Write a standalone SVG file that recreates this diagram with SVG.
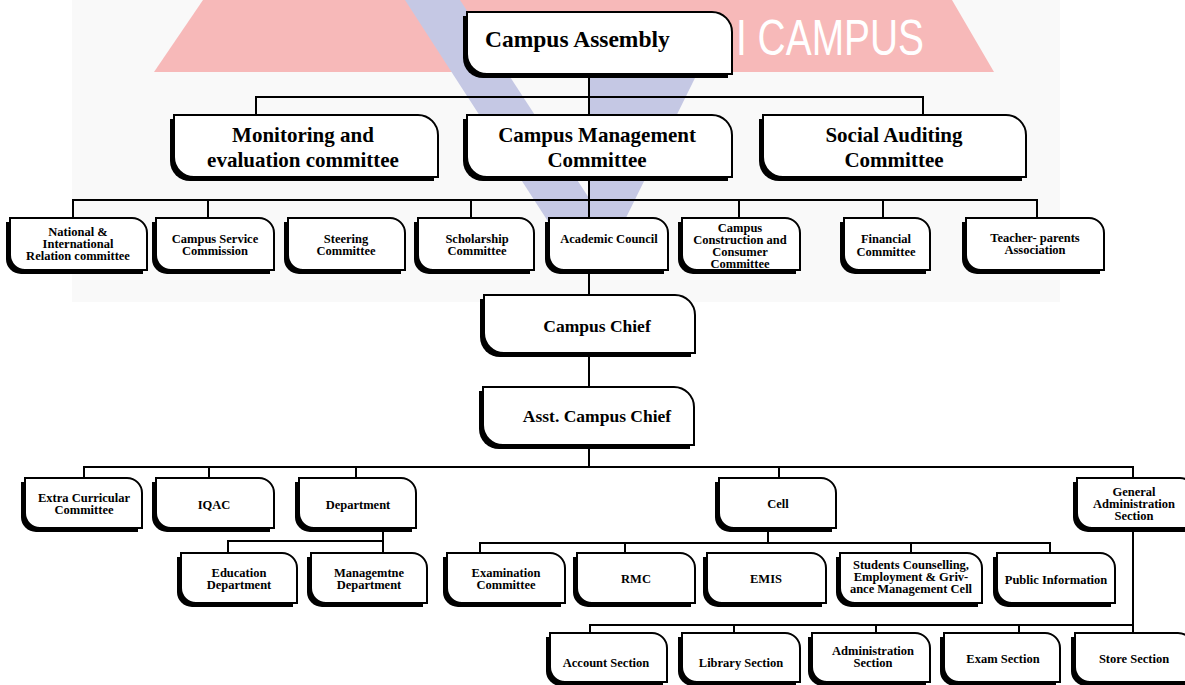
<svg xmlns="http://www.w3.org/2000/svg" width="1185" height="685" viewBox="0 0 1185 685" font-family="'Liberation Serif', 'Times New Roman', serif">
<style>
.bx{fill:#fff;stroke:#000;stroke-width:2}
.sh{fill:#000}
.ln{fill:none;stroke:#000;stroke-width:2}
text{font-family:"Liberation Serif","Times New Roman",serif;font-weight:bold;fill:#000;text-anchor:middle}
.big{font-size:21px}
.mid{font-size:17.5px}
.sm{font-size:12.5px}
</style>
<rect x="0" y="0" width="1185" height="685" fill="#fff"/>
<g id="watermark">
<rect x="72" y="0" width="988" height="302" fill="#f9f9f9"/>
<polygon points="154,72 203,0 952,0 994,72" fill="#f7b9b9"/>
<polygon points="405,0 460,0 600,215 600,250 560,240" fill="#c5c8e4"/>
<polygon points="590,78 695,78 615,240 590,248" fill="#c5c8e4"/>
<text x="736" y="55" style="font-family:'Liberation Sans',Arial,sans-serif;font-weight:normal;font-size:50px;fill:#fff;text-anchor:start" textLength="188" lengthAdjust="spacingAndGlyphs">I CAMPUS</text>
</g>
<g id="connectors" class="ln">
<path d="M589 74V115M256 115V97H923V115"/>
<path d="M589 177V218M73 218V200H1037V218M208 200V218M471 200V218M739 200V218M883 200V218"/>
<path d="M589 270V295M589 353V387M589 445V467"/>
<path d="M84 478V467H1133V478M209 467V478M356 467V478M779 467V478"/>
<path d="M383 528V541H228V553M383 541V553"/>
<path d="M768 528V543M480 553V543H1050V553M625 543V553M911 543V553"/>
<path d="M1133 528V633M590 633V625H1133M734 625V633M876 625V633M1019 625V633"/>
</g>
<g id="assembly"><path class="sh" transform="translate(-4,4)" d="M467 12H712A20 20 0 0 1 732 32V74H487A20 20 0 0 1 467 54Z"/><path class="bx" d="M467 12H712A20 20 0 0 1 732 32V74H487A20 20 0 0 1 467 54Z"/><text x="485" y="47" style="font-size:23.5px;text-anchor:start">Campus Assembly</text></g>
<g id="monitoring"><path class="sh" transform="translate(-4,4)" d="M174 115H418A20 20 0 0 1 438 135V177H194A20 20 0 0 1 174 157Z"/><path class="bx" d="M174 115H418A20 20 0 0 1 438 135V177H194A20 20 0 0 1 174 157Z"/><text class="big" x="303" y="142">Monitoring and</text><text class="big" x="303" y="167">evaluation committee</text></g>
<g id="cmc"><path class="sh" transform="translate(-4,4)" d="M467 115H712A20 20 0 0 1 732 135V177H487A20 20 0 0 1 467 157Z"/><path class="bx" d="M467 115H712A20 20 0 0 1 732 135V177H487A20 20 0 0 1 467 157Z"/><text class="big" x="597" y="142">Campus Management</text><text class="big" x="597" y="167">Committee</text></g>
<g id="social"><path class="sh" transform="translate(-4,4)" d="M763 115H1006A20 20 0 0 1 1026 135V177H783A20 20 0 0 1 763 157Z"/><path class="bx" d="M763 115H1006A20 20 0 0 1 1026 135V177H783A20 20 0 0 1 763 157Z"/><text class="big" x="894" y="142">Social Auditing</text><text class="big" x="894" y="167">Committee</text></g>
<g id="national"><path class="sh" transform="translate(-4,4)" d="M10 218H132A15 15 0 0 1 147 233V270H25A15 15 0 0 1 10 255Z"/><path class="bx" d="M10 218H132A15 15 0 0 1 147 233V270H25A15 15 0 0 1 10 255Z"/><text class="sm" x="78" y="236">National &amp;</text><text class="sm" x="78" y="248">International</text><text class="sm" x="78" y="260">Relation committee</text></g>
<g id="service"><path class="sh" transform="translate(-4,4)" d="M156 218H259A15 15 0 0 1 274 233V270H171A15 15 0 0 1 156 255Z"/><path class="bx" d="M156 218H259A15 15 0 0 1 274 233V270H171A15 15 0 0 1 156 255Z"/><text class="sm" x="215" y="243">Campus Service</text><text class="sm" x="215" y="255">Commission</text></g>
<g id="steering"><path class="sh" transform="translate(-4,4)" d="M288 218H390A15 15 0 0 1 405 233V270H303A15 15 0 0 1 288 255Z"/><path class="bx" d="M288 218H390A15 15 0 0 1 405 233V270H303A15 15 0 0 1 288 255Z"/><text class="sm" x="346" y="243">Steering</text><text class="sm" x="346" y="255">Committee</text></g>
<g id="scholarship"><path class="sh" transform="translate(-4,4)" d="M418 218H519A15 15 0 0 1 534 233V270H433A15 15 0 0 1 418 255Z"/><path class="bx" d="M418 218H519A15 15 0 0 1 534 233V270H433A15 15 0 0 1 418 255Z"/><text class="sm" x="477" y="243">Scholarship</text><text class="sm" x="477" y="255">Committee</text></g>
<g id="academic"><path class="sh" transform="translate(-4,4)" d="M549 218H653A15 15 0 0 1 668 233V270H564A15 15 0 0 1 549 255Z"/><path class="bx" d="M549 218H653A15 15 0 0 1 668 233V270H564A15 15 0 0 1 549 255Z"/><text class="sm" x="609" y="243">Academic Council</text></g>
<g id="construction"><path class="sh" transform="translate(-4,4)" d="M682 218H785A15 15 0 0 1 800 233V270H697A15 15 0 0 1 682 255Z"/><path class="bx" d="M682 218H785A15 15 0 0 1 800 233V270H697A15 15 0 0 1 682 255Z"/><text class="sm" x="740" y="232">Campus</text><text class="sm" x="740" y="244">Construction and</text><text class="sm" x="740" y="256">Consumer</text><text class="sm" x="740" y="268">Committee</text></g>
<g id="financial"><path class="sh" transform="translate(-4,4)" d="M844 218H915A15 15 0 0 1 930 233V270H859A15 15 0 0 1 844 255Z"/><path class="bx" d="M844 218H915A15 15 0 0 1 930 233V270H859A15 15 0 0 1 844 255Z"/><text class="sm" x="886" y="243">Financial</text><text class="sm" x="886" y="256">Committee</text></g>
<g id="teacher"><path class="sh" transform="translate(-4,4)" d="M966 218H1089A15 15 0 0 1 1104 233V270H981A15 15 0 0 1 966 255Z"/><path class="bx" d="M966 218H1089A15 15 0 0 1 1104 233V270H981A15 15 0 0 1 966 255Z"/><text class="sm" x="1035" y="242">Teacher- parents</text><text class="sm" x="1035" y="254">Association</text></g>
<g id="chief"><path class="sh" transform="translate(-4,4)" d="M484 295H675A20 20 0 0 1 695 315V353H504A20 20 0 0 1 484 333Z"/><path class="bx" d="M484 295H675A20 20 0 0 1 695 315V353H504A20 20 0 0 1 484 333Z"/><text class="mid" x="597" y="332">Campus Chief</text></g>
<g id="asst"><path class="sh" transform="translate(-4,4)" d="M483 387H674A20 20 0 0 1 694 407V445H503A20 20 0 0 1 483 425Z"/><path class="bx" d="M483 387H674A20 20 0 0 1 694 407V445H503A20 20 0 0 1 483 425Z"/><text class="mid" x="597" y="422">Asst. Campus Chief</text></g>
<g id="extra"><path class="sh" transform="translate(-4,4)" d="M25 478H127A15 15 0 0 1 142 493V528H40A15 15 0 0 1 25 513Z"/><path class="bx" d="M25 478H127A15 15 0 0 1 142 493V528H40A15 15 0 0 1 25 513Z"/><text class="sm" x="84" y="502">Extra Curricular</text><text class="sm" x="84" y="514">Committee</text></g>
<g id="iqac"><path class="sh" transform="translate(-4,4)" d="M156 478H259A15 15 0 0 1 274 493V528H171A15 15 0 0 1 156 513Z"/><path class="bx" d="M156 478H259A15 15 0 0 1 274 493V528H171A15 15 0 0 1 156 513Z"/><text class="sm" x="214" y="509">IQAC</text></g>
<g id="department"><path class="sh" transform="translate(-4,4)" d="M299 478H401A15 15 0 0 1 416 493V528H314A15 15 0 0 1 299 513Z"/><path class="bx" d="M299 478H401A15 15 0 0 1 416 493V528H314A15 15 0 0 1 299 513Z"/><text class="sm" x="358" y="509">Department</text></g>
<g id="cell"><path class="sh" transform="translate(-4,4)" d="M719 478H821A15 15 0 0 1 836 493V528H734A15 15 0 0 1 719 513Z"/><path class="bx" d="M719 478H821A15 15 0 0 1 836 493V528H734A15 15 0 0 1 719 513Z"/><text class="sm" x="778" y="508">Cell</text></g>
<g id="general"><path class="sh" transform="translate(-4,4)" d="M1077 478H1180A15 15 0 0 1 1195 493V528H1092A15 15 0 0 1 1077 513Z"/><path class="bx" d="M1077 478H1180A15 15 0 0 1 1195 493V528H1092A15 15 0 0 1 1077 513Z"/><text class="sm" x="1134" y="496">General</text><text class="sm" x="1134" y="508">Administration</text><text class="sm" x="1134" y="520">Section</text></g>
<g id="education"><path class="sh" transform="translate(-4,4)" d="M181 553H282A15 15 0 0 1 297 568V603H196A15 15 0 0 1 181 588Z"/><path class="bx" d="M181 553H282A15 15 0 0 1 297 568V603H196A15 15 0 0 1 181 588Z"/><text class="sm" x="239" y="577">Education</text><text class="sm" x="239" y="589">Department</text></g>
<g id="management"><path class="sh" transform="translate(-4,4)" d="M311 553H412A15 15 0 0 1 427 568V603H326A15 15 0 0 1 311 588Z"/><path class="bx" d="M311 553H412A15 15 0 0 1 427 568V603H326A15 15 0 0 1 311 588Z"/><text class="sm" x="369" y="577">Managemtne</text><text class="sm" x="369" y="589">Department</text></g>
<g id="examination"><path class="sh" transform="translate(-4,4)" d="M447 553H550A15 15 0 0 1 565 568V603H462A15 15 0 0 1 447 588Z"/><path class="bx" d="M447 553H550A15 15 0 0 1 565 568V603H462A15 15 0 0 1 447 588Z"/><text class="sm" x="506" y="577">Examination</text><text class="sm" x="506" y="589">Committee</text></g>
<g id="rmc"><path class="sh" transform="translate(-4,4)" d="M577 553H680A15 15 0 0 1 695 568V603H592A15 15 0 0 1 577 588Z"/><path class="bx" d="M577 553H680A15 15 0 0 1 695 568V603H592A15 15 0 0 1 577 588Z"/><text class="sm" x="636" y="583">RMC</text></g>
<g id="emis"><path class="sh" transform="translate(-4,4)" d="M707 553H811A15 15 0 0 1 826 568V603H722A15 15 0 0 1 707 588Z"/><path class="bx" d="M707 553H811A15 15 0 0 1 826 568V603H722A15 15 0 0 1 707 588Z"/><text class="sm" x="766" y="583">EMIS</text></g>
<g id="students"><path class="sh" transform="translate(-4,4)" d="M840 553H967A15 15 0 0 1 982 568V603H855A15 15 0 0 1 840 588Z"/><path class="bx" d="M840 553H967A15 15 0 0 1 982 568V603H855A15 15 0 0 1 840 588Z"/><text class="sm" x="911" y="569">Students Counselling,</text><text class="sm" x="911" y="581">Employment &amp; Griv-</text><text class="sm" x="911" y="593">ance Management Cell</text></g>
<g id="public"><path class="sh" transform="translate(-4,4)" d="M997 553H1100A15 15 0 0 1 1115 568V603H1012A15 15 0 0 1 997 588Z"/><path class="bx" d="M997 553H1100A15 15 0 0 1 1115 568V603H1012A15 15 0 0 1 997 588Z"/><text class="sm" x="1056" y="584">Public Information</text></g>
<g id="account"><path class="sh" transform="translate(-4,4)" d="M550 633H652A15 15 0 0 1 667 648V682H565A15 15 0 0 1 550 667Z"/><path class="bx" d="M550 633H652A15 15 0 0 1 667 648V682H565A15 15 0 0 1 550 667Z"/><text class="sm" x="606" y="667">Account Section</text></g>
<g id="library"><path class="sh" transform="translate(-4,4)" d="M682 633H785A15 15 0 0 1 800 648V682H697A15 15 0 0 1 682 667Z"/><path class="bx" d="M682 633H785A15 15 0 0 1 800 648V682H697A15 15 0 0 1 682 667Z"/><text class="sm" x="741" y="667">Library Section</text></g>
<g id="administration"><path class="sh" transform="translate(-4,4)" d="M812 633H915A15 15 0 0 1 930 648V682H827A15 15 0 0 1 812 667Z"/><path class="bx" d="M812 633H915A15 15 0 0 1 930 648V682H827A15 15 0 0 1 812 667Z"/><text class="sm" x="873" y="655">Administration</text><text class="sm" x="873" y="667">Section</text></g>
<g id="exam"><path class="sh" transform="translate(-4,4)" d="M944 633H1045A15 15 0 0 1 1060 648V682H959A15 15 0 0 1 944 667Z"/><path class="bx" d="M944 633H1045A15 15 0 0 1 1060 648V682H959A15 15 0 0 1 944 667Z"/><text class="sm" x="1003" y="663">Exam Section</text></g>
<g id="store"><path class="sh" transform="translate(-4,4)" d="M1075 633H1178A15 15 0 0 1 1193 648V682H1090A15 15 0 0 1 1075 667Z"/><path class="bx" d="M1075 633H1178A15 15 0 0 1 1193 648V682H1090A15 15 0 0 1 1075 667Z"/><text class="sm" x="1134" y="663">Store Section</text></g>
</svg>
